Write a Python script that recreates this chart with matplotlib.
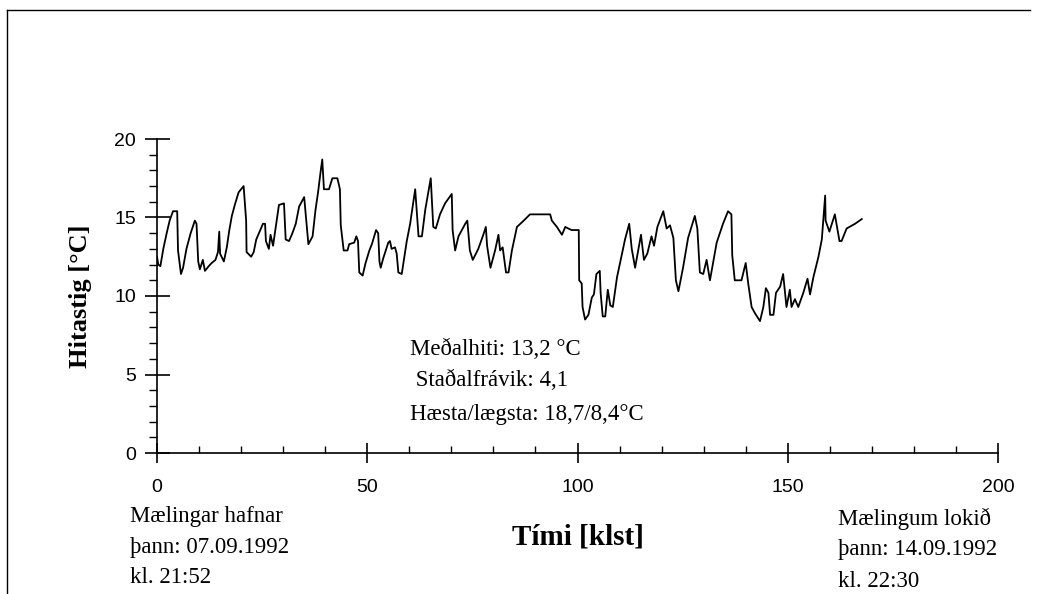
import matplotlib
matplotlib.use("Agg")
import matplotlib.pyplot as plt
from matplotlib.ticker import MultipleLocator
from matplotlib.lines import Line2D

# Hitamæling, tími í klst frá upphafi mælinga
timi = [0.0, 0.3, 0.8, 1.5, 2.3, 3.0, 3.8, 4.8, 5.0, 5.7, 6.2, 7.0, 8.0, 9.0, 9.4,
        9.8, 10.2, 10.9, 11.4, 12.3, 13.0, 13.9, 14.5, 14.8, 15.0, 15.9, 16.6, 17.2,
        17.8, 18.5, 19.4, 20.6, 21.2, 21.3, 22.4, 23.0, 23.6, 24.4, 25.2, 25.7, 25.9,
        26.6, 27.0, 27.6, 28.2, 29.0, 30.2, 30.6, 31.4, 32.2, 33.0, 33.8, 35.0, 35.4,
        36.0, 37.0, 37.7, 38.3, 38.9, 39.3, 39.7, 40.9, 41.7, 42.9, 43.5, 43.7, 44.4,
        45.3, 45.7, 46.9, 47.4, 47.8, 48.1, 48.9, 49.6, 50.5, 51.1, 52.1, 52.6, 52.9,
        53.2, 53.8, 55.0, 55.4, 55.8, 56.6, 57.0, 57.4, 58.2, 59.4, 60.2, 61.4, 62.2,
        63.0, 63.8, 65.1, 65.7, 66.3, 67.3, 68.5, 70.1, 70.3, 70.9, 71.7, 73.3, 73.8,
        74.4, 75.1, 76.4, 77.6, 78.2, 78.5, 79.3, 80.4, 81.2, 81.6, 82.2, 83.0, 83.6,
        84.4, 85.6, 87.2, 88.7, 93.5, 93.9, 95.1, 96.3, 97.1, 97.8, 98.6, 100.3, 100.4,
        101.0, 101.2, 101.8, 102.6, 103.4, 103.9, 104.5, 105.3, 105.5, 106.0, 106.6,
        107.2, 107.8, 108.4, 109.4, 110.6, 111.3, 112.3, 112.9, 113.7, 114.5, 115.1,
        115.8, 116.6, 117.6, 118.2, 119.0, 120.4, 121.2, 122.0, 122.8, 123.4, 124.0,
        125.1, 126.3, 127.9, 128.5, 129.1, 129.9, 130.7, 131.5, 133.1, 134.6, 135.8,
        136.6, 136.8, 137.4, 139.0, 140.0, 140.6, 141.4, 142.2, 143.4, 144.2, 144.8,
        145.4, 145.8, 146.6, 147.2, 148.2, 148.9, 149.7, 150.5, 150.9, 151.7, 152.5,
        153.7, 154.7, 155.3, 156.1, 157.3, 158.1, 158.9, 159.0, 159.9, 161.2, 162.3,
        162.8, 164.0, 166.0, 167.6]
hiti = [12.5, 12.0, 11.9, 13.0, 14.0, 14.8, 15.4, 15.4, 12.9, 11.4, 11.8, 13.0, 14.0,
        14.8, 14.6, 12.2, 11.7, 12.3, 11.6, 11.9, 12.1, 12.3, 12.8, 14.1, 12.7, 12.2,
        13.1, 14.2, 15.1, 15.8, 16.6, 17.0, 14.8, 12.8, 12.5, 12.8, 13.6, 14.1, 14.6,
        14.6, 13.5, 13.0, 13.9, 13.2, 14.3, 15.8, 15.9, 13.6, 13.5, 14.0, 14.6, 15.7,
        16.3, 15.1, 13.3, 13.8, 15.5, 16.6, 17.9, 18.7, 16.8, 16.8, 17.5, 17.5, 16.8,
        14.5, 12.9, 12.9, 13.3, 13.4, 13.8, 13.5, 11.5, 11.3, 12.1, 12.9, 13.3, 14.2,
        14.0, 12.2, 11.8, 12.4, 13.4, 13.5, 13.0, 13.1, 12.7, 11.5, 11.4, 13.5, 14.6,
        16.8, 13.8, 13.8, 15.5, 17.5, 14.4, 14.3, 15.2, 15.9, 16.5, 14.2, 12.9, 13.8,
        14.6, 14.8, 12.9, 12.3, 13.0, 13.9, 14.4, 13.2, 11.8, 12.9, 13.9, 12.9, 13.1,
        11.5, 11.5, 12.9, 14.4, 14.8, 15.2, 15.2, 14.8, 14.4, 13.9, 14.4, 14.3, 14.2,
        14.2, 11.0, 10.8, 9.3, 8.5, 8.8, 9.9, 10.1, 11.4, 11.6, 10.2, 8.7, 8.7, 10.4,
        9.4, 9.3, 11.2, 12.7, 13.6, 14.6, 13.0, 11.8, 13.0, 13.9, 12.3, 12.7, 13.8,
        13.2, 14.4, 15.4, 14.3, 14.5, 13.7, 11.0, 10.3, 11.8, 13.7, 15.1, 14.3, 11.5,
        11.4, 12.3, 11.0, 13.4, 14.6, 15.4, 15.2, 12.6, 11.0, 11.0, 12.1, 10.8, 9.3,
        8.9, 8.4, 9.3, 10.5, 10.2, 8.8, 8.8, 10.2, 10.6, 11.4, 9.3, 10.4, 9.3, 9.8,
        9.3, 10.2, 11.1, 10.1, 11.2, 12.5, 13.6, 16.4, 14.8, 14.1, 15.2, 13.5, 13.5,
        14.3, 14.6, 14.9]

texti_midja = ["Meðalhiti: 13,2 °C", " Staðalfrávik: 4,1", "Hæsta/lægsta: 18,7/8,4°C"]
texti_upphaf = ["Mælingar hafnar", "þann: 07.09.1992", "kl. 21:52"]
texti_lok = ["Mælingum lokið", "þann: 14.09.1992", "kl. 22:30"]

W, H = 1040, 594
fig = plt.figure(figsize=(W / 100, H / 100), dpi=100)
ax = fig.add_axes([157 / W, 1 - 453 / H, (998 - 157) / W, (453 - 139) / H])

ax.plot(timi, hiti, color="black", lw=1.3)

ax.set_xlim(0, 200)
ax.set_ylim(0, 20)
ax.spines["top"].set_visible(False)
ax.spines["right"].set_visible(False)
for s in ["left", "bottom"]:
    ax.spines[s].set_linewidth(1.2)
ax.xaxis.set_major_locator(MultipleLocator(50))
ax.xaxis.set_minor_locator(MultipleLocator(10))
ax.yaxis.set_major_locator(MultipleLocator(5))
ax.yaxis.set_minor_locator(MultipleLocator(1))

ax.tick_params(axis="y", which="major", direction="inout", length=18, width=1.2, pad=6)
ax.tick_params(axis="y", which="minor", direction="out", length=6, width=1.0)
ax.tick_params(axis="x", which="major", direction="inout", length=14, width=1.2, pad=12)
ax.tick_params(axis="x", which="minor", direction="in", length=5, width=1.0)
for lab in ax.get_xticklabels() + ax.get_yticklabels():
    lab.set_fontfamily("Liberation Sans")
    lab.set_fontsize(14)

serif = "Liberation Serif"
ax.set_ylabel("Hitastig [°C]", family=serif, fontweight="bold", fontsize=19, labelpad=16)
fig.text(578 / W, 1 - 545 / H, "Tími [klst]", family=serif, fontweight="bold",
         fontsize=21, ha="center", va="baseline")

for txt, yp in zip(texti_midja, [355, 386, 420]):
    fig.text(410 / W, 1 - yp / H, txt, family=serif, fontsize=16.5, va="baseline")
for txt, yp in zip(texti_upphaf, [522, 553, 583]):
    fig.text(130 / W, 1 - yp / H, txt, family=serif, fontsize=16.5, va="baseline")
for txt, yp in zip(texti_lok, [525, 555, 587]):
    fig.text(838 / W, 1 - yp / H, txt, family=serif, fontsize=16.5, va="baseline")

# rammi efst og vinstra megin
fig.add_artist(Line2D([7 / W, 1030 / W], [1 - 10 / H, 1 - 10 / H], color="black", lw=1.0))
fig.add_artist(Line2D([7 / W, 7 / W], [1 - 10 / H, 0], color="black", lw=1.0))

fig.savefig("out.png", dpi=100)
